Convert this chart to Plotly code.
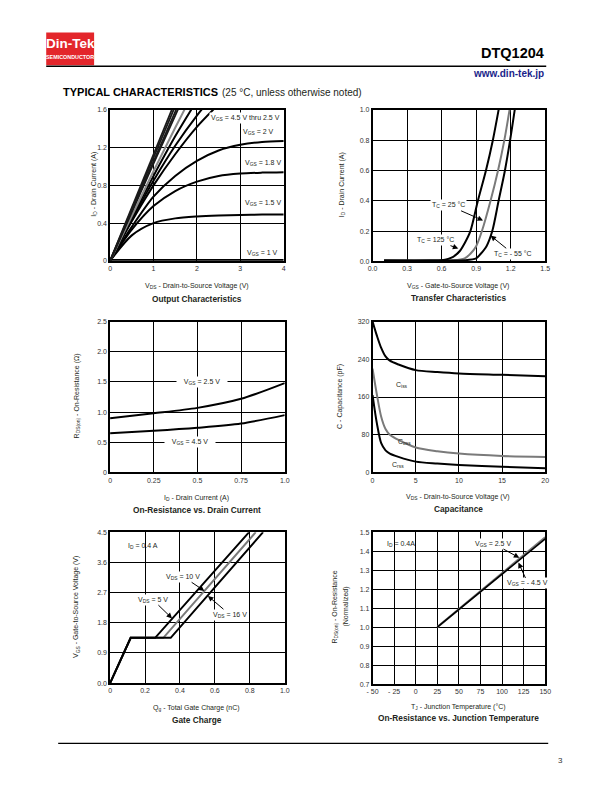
import plotly.graph_objects as go

# ---------------- DATA ----------------
# Output characteristics (VDS in V, ID in A)
OUT_VDS = [0, 0.5, 1.0, 1.5, 2.0, 2.5, 3.0, 3.5, 4.0]
OUT_ID_VGS45 = [0, 0.57, 1.13, 1.69]
OUT_ID_VGS40 = [0, 0.55, 1.09, 1.64]
OUT_ID_VGS35 = [0, 0.53, 1.06, 1.58, 2.10]
OUT_ID_VGS30 = [0, 0.52, 1.03, 1.54, 2.05]
OUT_ID_VGS25 = [0, 0.48, 0.95, 1.41, 1.86]
OUT_ID_VGS22 = [0, 0.46, 0.90, 1.32, 1.70]
OUT_ID_VGS21 = [0, 0.44, 0.85, 1.22, 1.54, 1.82]
OUT_ID_VGS20 = [0, 0.42, 0.80, 1.13, 1.42, 1.66]
OUT_ID_VGS19 = [0, 0.36, 0.68, 0.90, 1.06, 1.17, 1.23, 1.26, 1.27]
OUT_ID_VGS18 = [0, 0.33, 0.58, 0.74, 0.84, 0.90, 0.925, 0.935, 0.94]
OUT_ID_VGS15 = [0, 0.27, 0.40, 0.45, 0.47, 0.48, 0.485, 0.49, 0.49]
OUT_ID_VGS10 = [0.008, 0.008, 0.008, 0.008, 0.008, 0.008, 0.008, 0.008, 0.008]

# Transfer characteristics (VGS in V, ID in A)
TR_VGS_125 = [0.10, 0.50, 0.60, 0.70, 0.76, 0.80, 0.85, 0.915, 0.985, 1.045, 1.095]
TR_ID_125 = [0.005, 0.005, 0.007, 0.03, 0.07, 0.12, 0.20, 0.40, 0.60, 0.80, 1.00]
TR_VGS_25 = [0.10, 0.60, 0.70, 0.80, 0.85, 0.90, 0.95, 1.025, 1.09, 1.145, 1.19]
TR_ID_25 = [0.005, 0.005, 0.007, 0.02, 0.05, 0.10, 0.20, 0.40, 0.60, 0.80, 1.00]
TR_VGS_M55 = [0.10, 0.70, 0.80, 0.90, 0.94, 0.99, 1.04, 1.095, 1.15, 1.195, 1.235]
TR_ID_M55 = [0.005, 0.005, 0.007, 0.02, 0.05, 0.10, 0.20, 0.40, 0.60, 0.80, 1.00]

# On-resistance vs drain current
RON_ID = [0, 0.25, 0.5, 0.75, 1.0]
RON_VGS25 = [0.90, 0.98, 1.07, 1.22, 1.48]
RON_VGS45 = [0.65, 0.69, 0.74, 0.81, 0.95]

# Capacitance (pF)
CAP_VDS = [0, 0.5, 1, 1.5, 2, 3, 5, 7.5, 10, 15, 20]
CAP_CISS = [320, 290, 264, 246, 237, 229, 217, 213, 210, 207, 204]
CAP_COSS = [220, 165, 118, 92, 80, 69, 53, 45, 40, 35, 33]
CAP_CRSS = [164, 104, 62, 47, 40, 33, 23, 19, 16, 12, 9]

# Gate charge
GC_QG_5 = [0, 0.118, 0.258, 0.796]
GC_QG_10 = [0, 0.118, 0.305, 0.834]
GC_QG_16 = [0, 0.118, 0.347, 0.876]
GC_VGS = [0, 1.35, 1.35, 4.5]

# Normalized on-resistance vs junction temperature
RT_TJ = [25, 50, 75, 100, 125, 150]
RT_VGS45 = [1.0, 1.093, 1.186, 1.279, 1.372, 1.465]
RT_VGS25 = [1.0, 1.095, 1.19, 1.284, 1.378, 1.473]

# Tick labels
T1X = ["0", "1", "2", "3", "4"]
T1Y = ["0", "0.4", "0.8", "1.2", "1.6"]
T2X = ["0.0", "0.3", "0.6", "0.9", "1.2", "1.5"]
T2Y = ["0.0", "0.2", "0.4", "0.6", "0.8", "1.0"]
T3X = ["0", "0.25", "0.5", "0.75", "1.0"]
T3Y = ["0", "0.5", "1.0", "1.5", "2.0", "2.5"]
T4X = ["0", "5", "10", "15", "20"]
T4Y = ["0", "80", "160", "240", "320"]
T5X = ["0", "0.2", "0.4", "0.6", "0.8", "1.0"]
T5Y = ["0.0", "0.9", "1.8", "2.7", "3.6", "4.5"]
T6X = ["- 50", "- 25", "0", "25", "50", "75", "100", "125", "150"]
T6Y = ["0.7", "0.8", "0.9", "1.0", "1.1", "1.2", "1.3", "1.4", "1.5"]

# ---------------- LAYOUT HELPERS ----------------
W, H = 612, 792
FONT = "Liberation Sans, Arial, sans-serif"
TXT = "#231f20"
GREY = "#7a7a7a"


def PX(x):
    return (1.018 * x - 4.8) / W


def PY(y):
    return 1 - (1.012 * y - 5.0) / H


def PYH(y):
    # header elements
    return 1 - (y - 2.2) / H


fig = go.Figure()

panels = {
    1: dict(l=109, r=283, t=110.5, b=261, xr=[0, 4], yr=[0, 1.6],
            xv=[0, 1, 2, 3, 4], xt=T1X, yv=[0, 0.4, 0.8, 1.2, 1.6], yt=T1Y),
    2: dict(l=372, r=545, t=110.5, b=261.5, xr=[0, 1.5], yr=[0, 1.0],
            xv=[0, 0.3, 0.6, 0.9, 1.2, 1.5], xt=T2X,
            yv=[0, 0.2, 0.4, 0.6, 0.8, 1.0], yt=T2Y),
    3: dict(l=109, r=284, t=321.5, b=472, xr=[0, 1.0], yr=[0, 2.5],
            xv=[0, 0.25, 0.5, 0.75, 1.0], xt=T3X,
            yv=[0, 0.5, 1.0, 1.5, 2.0, 2.5], yt=T3Y),
    4: dict(l=372, r=545, t=321.5, b=472, xr=[0, 20], yr=[0, 320],
            xv=[0, 5, 10, 15, 20], xt=T4X, yv=[0, 80, 160, 240, 320], yt=T4Y),
    5: dict(l=109, r=284, t=531.5, b=682, xr=[0, 1.0], yr=[0, 4.5],
            xv=[0, 0.2, 0.4, 0.6, 0.8, 1.0], xt=T5X,
            yv=[0, 0.9, 1.8, 2.7, 3.6, 4.5], yt=T5Y),
    6: dict(l=372, r=545, t=531.5, b=683, xr=[-50, 150], yr=[0.7, 1.5],
            xv=[-50, -25, 0, 25, 50, 75, 100, 125, 150], xt=T6X,
            yv=[0.7, 0.8, 0.9, 1.0, 1.1, 1.2, 1.3, 1.4, 1.5], yt=T6Y),
}

layout_axes = {}
for i, p in panels.items():
    s = "" if i == 1 else str(i)
    common = dict(showline=True, mirror=True, linecolor="black", linewidth=1.5,
                  showgrid=True, gridcolor="black", gridwidth=1.2,
                  zeroline=False, ticks="", fixedrange=True,
                  tickfont=dict(family=FONT, size=7, color="#333333"))
    layout_axes["xaxis" + s] = dict(domain=[PX(p["l"]), PX(p["r"])], range=p["xr"],
                                    tickmode="array", tickvals=p["xv"], ticktext=p["xt"],
                                    anchor="y" + s, **common)
    layout_axes["yaxis" + s] = dict(domain=[PY(p["b"]), PY(p["t"])], range=p["yr"],
                                    tickmode="array", tickvals=p["yv"], ticktext=p["yt"],
                                    anchor="x" + s, **common)


def add_line(i, x, y, color="black", width=2, shape="linear"):
    s = "" if i == 1 else str(i)
    fig.add_trace(go.Scatter(x=x, y=y, mode="lines", xaxis="x" + s, yaxis="y" + s,
                             line=dict(color=color, width=width, shape=shape,
                                       smoothing=0.8),
                             showlegend=False, hoverinfo="skip"))


# ---- Panel 1 ----
for ys in [OUT_ID_VGS10, OUT_ID_VGS15, OUT_ID_VGS18, OUT_ID_VGS19, OUT_ID_VGS20,
           OUT_ID_VGS21, OUT_ID_VGS22]:
    add_line(1, OUT_VDS[:len(ys)], ys, shape="spline")
add_line(1, OUT_VDS[:len(OUT_ID_VGS25)], OUT_ID_VGS25, color="#8a8a8a")
for ys in [OUT_ID_VGS30, OUT_ID_VGS35, OUT_ID_VGS40, OUT_ID_VGS45]:
    add_line(1, OUT_VDS[:len(ys)], ys, color="#1a1a1a", width=1.8)

# ---- Panel 2 ----
add_line(2, TR_VGS_25, TR_ID_25, color=GREY, shape="spline")
add_line(2, TR_VGS_125, TR_ID_125, shape="spline")
add_line(2, TR_VGS_M55, TR_ID_M55, shape="spline")

# ---- Panel 3 ----
add_line(3, RON_ID, RON_VGS25, shape="spline")
add_line(3, RON_ID, RON_VGS45, shape="spline")

# ---- Panel 4 ----
add_line(4, CAP_VDS, CAP_CISS, shape="spline")
add_line(4, CAP_VDS, CAP_COSS, color=GREY, shape="spline")
add_line(4, CAP_VDS, CAP_CRSS, shape="spline")

# ---- Panel 5 ----
add_line(5, GC_QG_10, GC_VGS, color=GREY)
add_line(5, GC_QG_16, GC_VGS)
add_line(5, GC_QG_5, GC_VGS)

# ---- Panel 6 ----
add_line(6, RT_TJ, RT_VGS25, color=GREY, width=2.2)
add_line(6, RT_TJ, RT_VGS45, width=1.6)

ann = []


def paper_text(x, y, text, size=7, bold=False, angle=0, xanchor="center",
               color=TXT, family=FONT, header=False):
    if bold:
        text = "<b>" + text + "</b>"
    ann.append(dict(x=PX(x), y=(PYH(y) if header else PY(y)), xref="paper",
                    yref="paper", text=text,
                    showarrow=False, textangle=angle, xanchor=xanchor,
                    yanchor="middle", font=dict(family=family, size=size, color=color)))


def data_text(i, x, y, text, size=7, bg=None, xanchor="center", pad=1):
    s = "" if i == 1 else str(i)
    d = dict(x=x, y=y, xref="x" + s, yref="y" + s, text=text, showarrow=False,
             xanchor=xanchor, yanchor="middle",
             font=dict(family=FONT, size=size, color=TXT), borderpad=pad)
    if bg:
        d["bgcolor"] = bg
    ann.append(d)


def arrow_text(i, hx, hy, tx, ty, text, size=7, bg="white"):
    s = "" if i == 1 else str(i)
    ann.append(dict(x=hx, y=hy, ax=tx, ay=ty, xref="x" + s, yref="y" + s,
                    axref="x" + s, ayref="y" + s, text=text, showarrow=True,
                    arrowhead=2, arrowsize=1.1, arrowwidth=1, arrowcolor="black",
                    standoff=0, startstandoff=0, bgcolor=bg, borderpad=1,
                    font=dict(family=FONT, size=size, color=TXT)))


NB = "\u00a0"

# Panel 1 labels
data_text(1, 3.12, 1.51, "V<sub>GS</sub> = 4.5 V thru 2.5 V", bg="white")
data_text(1, 3.42, 1.37, "V<sub>GS</sub> = 2 V", bg="white")
data_text(1, 3.52, 1.04, "V<sub>GS</sub> = 1.8 V", bg="white")
data_text(1, 3.52, 0.61, "V<sub>GS</sub> = 1.5 V", bg="white")
data_text(1, 3.52, 0.085, "V<sub>GS</sub> = 1 V", bg="white")

# Panel 2 labels
arrow_text(2, 0.96, 0.27, 0.66, 0.37, "T<sub>C</sub> = 25 °C")
arrow_text(2, 0.745, 0.085, 0.545, 0.14, "T<sub>C</sub> = 125 °C")
arrow_text(2, 1.025, 0.17, 1.22, 0.05, "T<sub>C</sub> = - 55 °C")

# Panel 3 labels
data_text(3, 0.526, 1.5, NB * 3 + "V<sub>GS</sub> = 2.5 V" + NB * 3, bg="white")
data_text(3, 0.46, 0.5, NB * 3 + "V<sub>GS</sub> = 4.5 V" + NB * 3, bg="white")

# Panel 4 labels
data_text(4, 3.4, 185, "C<sub>iss</sub>")
data_text(4, 3.7, 64, "C<sub>oss</sub>")
data_text(4, 3.0, 15, "C<sub>rss</sub>")

# Panel 5 labels
data_text(5, 0.19, 4.1, "I<sub>D</sub> = 0.4 A")
arrow_text(5, 0.54, 2.75, 0.42, 3.17, "V<sub>DS</sub> = 10 V")
arrow_text(5, 0.355, 1.93, 0.244, 2.49, "V<sub>DS</sub> = 5 V")
arrow_text(5, 0.56, 2.6, 0.686, 2.04, "V<sub>DS</sub> = 16 V")

# Panel 6 labels
data_text(6, -17, 1.44, "I<sub>D</sub> = 0.4A")
arrow_text(6, 120, 1.365, 90, 1.44, "V<sub>GS</sub> = 2.5 V")
arrow_text(6, 119, 1.34, 130, 1.23, "V<sub>GS</sub> = - 4.5 V")

# Axis titles and panel titles
paper_text(92, 185, "I<sub>D</sub> - Drain Current (A)", angle=-90)
paper_text(196, 286, "V<sub>DS</sub> - Drain-to-Source Voltage (V)")
paper_text(196, 299, "Output Characteristics", size=8.3, bold=True)

paper_text(341, 185, "I<sub>D</sub> - Drain Current (A)", angle=-90)
paper_text(458, 286, "V<sub>GS</sub> - Gate-to-Source Voltage (V)")
paper_text(458, 298, "Transfer Characteristics", size=8.3, bold=True)

paper_text(76, 396, "R<sub>DS(on)</sub> - On-Resistance (Ω)", angle=-90)
paper_text(196, 497, "I<sub>D</sub> - Drain Current (A)")
paper_text(196, 509, "On-Resistance vs. Drain Current", size=8.3, bold=True)

paper_text(340, 396, "C - Capacitance (pF)", angle=-90)
paper_text(458, 496, "V<sub>DS</sub> - Drain-to-Source Voltage (V)")
paper_text(458, 508, "Capacitance", size=8.3, bold=True)

paper_text(75, 606, "V<sub>GS</sub> - Gate-to-Source Voltage (V)", angle=-90)
paper_text(196, 707, "Q<sub>g</sub> - Total Gate Charge (nC)")
paper_text(196, 719, "Gate Charge", size=8.3, bold=True)

paper_text(334, 606, "R<sub>DS(on)</sub> - On-Resistance", angle=-90)
paper_text(345, 606, "(Normalized)", angle=-90)
paper_text(458, 706, "T<sub>J</sub> - Junction Temperature (°C)")
paper_text(458, 717, "On-Resistance vs. Junction Temperature", size=8.3, bold=True)

# Header
paper_text(69, 42.5, "Din-Tek", size=13.5, bold=True, color="white", header=True)
paper_text(69, 56, "SEMICONDUCTOR", size=5.4, bold=True, color="white", header=True)
ann.append(dict(x=PX(546), y=PYH(52), xref="paper", yref="paper", text="<b>DTQ1204</b>",
                showarrow=False, xanchor="right", yanchor="middle",
                font=dict(family=FONT, size=14.5, color="black")))
ann.append(dict(x=PX(546), y=PYH(72), xref="paper", yref="paper",
                text="<b>www.din-tek.jp</b>", showarrow=False, xanchor="right",
                yanchor="middle", font=dict(family=FONT, size=10, color="#1b1f8a")))
paper_text(60, 91, "TYPICAL CHARACTERISTICS", size=11, bold=True, xanchor="left",
           color="black", header=True)
paper_text(219, 91.5, "(25 °C, unless otherwise noted)", size=10, xanchor="left",
           header=True)
paper_text(560, 759, "3", size=8, color="#333333")

shapes = [
    dict(type="rect", xref="paper", yref="paper", x0=PX(45), x1=PX(93), y0=PYH(64),
         y1=PYH(31), fillcolor="#e3262b", line=dict(width=0)),
    dict(type="line", xref="paper", yref="paper", x0=PX(45), x1=PX(546), y0=PYH(65),
         y1=PYH(65), line=dict(color="black", width=1.5)),
    dict(type="line", xref="paper", yref="paper", x0=PX(57), x1=PX(548), y0=PY(742),
         y1=PY(742), line=dict(color="black", width=1.2)),
]

fig.update_layout(width=W, height=H, margin=dict(l=0, r=0, t=0, b=0),
                  paper_bgcolor="white", plot_bgcolor="white",
                  annotations=ann, shapes=shapes, showlegend=False,
                  font=dict(family=FONT, color=TXT), **layout_axes)

fig.write_html("out.html", config={"displayModeBar": False},
               post_script="document.body.style.margin='0';"
                           "document.body.style.overflow='hidden';")
